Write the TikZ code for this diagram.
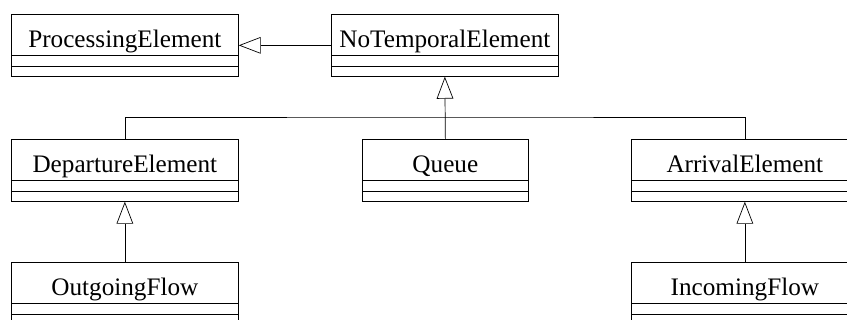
\documentclass[tikz,border=0pt]{standalone}
\usepackage{fontspec}
\setmainfont{Liberation Serif}
\usetikzlibrary{arrows.meta, positioning}
\newcommand{\umlclass}[4]{%
  \node[umlclass, minimum width=#3] (#1) at (#2) {\rule[-0.4cm]{0pt}{0.8cm}#4};
  \draw ([yshift=0.63cm]#1.south west) -- ([yshift=0.63cm]#1.south east);
  \draw ([yshift=0.3cm]#1.south west) -- ([yshift=0.3cm]#1.south east);
}

\begin{document}
\begin{tikzpicture}[x=0.03cm, y=-0.03cm, line width=0.6pt,
  umlclass/.style={draw, inner sep=0pt, minimum height=1.86cm, anchor=north west, font=\fontsize{21.5}{25}\selectfont},
  inherit/.style={-{Triangle[open, length=0.66cm, width=0.5cm]}}]
\clip (0,0) rectangle (847,320);
\umlclass{pe}{11,14}{6.81cm}{ProcessingElement}
\umlclass{nte}{331,14}{6.81cm}{NoTemporalElement}
\umlclass{de}{11,139}{6.81cm}{DepartureElement}
\umlclass{queue}{362,139}{4.98cm}{Queue}
\umlclass{ae}{631,139}{6.81cm}{ArrivalElement}
\umlclass{of}{11,262}{6.81cm}{OutgoingFlow}
\umlclass{if}{631,262}{6.81cm}{IncomingFlow}
\coordinate (bus) at (445,117);
\draw[inherit] (nte.west) -- (pe.east);
\draw[inherit] (queue.north) -- (nte.south);
\draw (de.north) |- (bus) -| (ae.north);
\draw[inherit] (of.north) -- (de.south);
\draw[inherit] (if.north) -- (ae.south);
\end{tikzpicture}
\end{document}
